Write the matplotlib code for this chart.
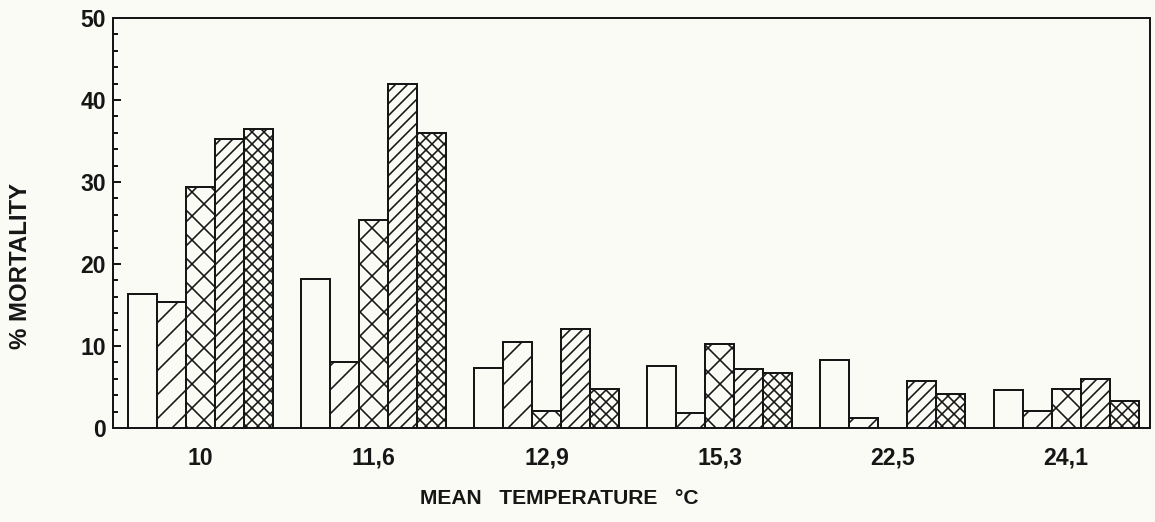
import numpy as np
import matplotlib
matplotlib.use("Agg")
import matplotlib.pyplot as plt


# ==========================================================
# 1. DONNÉES
# ==========================================================

# Températures moyennes (étiquettes de l'axe x).
temperatures = ["10", "11,6", "12,9", "15,3", "22,5", "24,1"]

# Pourcentage de mortalité, une série par motif de barre.
mortalite_blanc = [16.3, 18.2, 7.3, 7.6, 8.3, 4.6]
mortalite_raye = [15.4, 8.1, 10.5, 1.8, 1.2, 2.1]
mortalite_quadrille = [29.4, 25.4, 2.1, 10.2, 0.0, 4.8]
mortalite_raye_dense = [35.2, 41.9, 12.1, 7.2, 5.7, 6.0]
mortalite_quadrille_dense = [36.5, 36.0, 4.8, 6.7, 4.2, 3.3]

# Graduations de l'axe y.
graduations_y = [0, 10, 20, 30, 40, 50]


# ==========================================================
# 2. STYLE GÉNÉRAL
# ==========================================================

# dpi de 72 : les motifs de hachures ont alors le bon espacement.
DPI = 72
plt.rcParams["font.family"] = ["Liberation Sans", "DejaVu Sans"]
plt.rcParams["font.weight"] = "bold"
plt.rcParams["axes.labelweight"] = "bold"
plt.rcParams["hatch.linewidth"] = 1.6
plt.rcParams["hatch.color"] = "#161616"

couleur_trait = "#161616"
couleur_fond = "#fbfbf6"


# ==========================================================
# 3. TRACÉ
# ==========================================================

fig = plt.figure(figsize=(1155 / DPI, 522 / DPI), dpi=DPI, facecolor=couleur_fond)
ax = fig.add_axes([113 / 1155, 1 - 428 / 522, 1037 / 1155, 410 / 522])
ax.set_facecolor(couleur_fond)

series = [
    mortalite_blanc,
    mortalite_raye,
    mortalite_quadrille,
    mortalite_raye_dense,
    mortalite_quadrille_dense,
]
motifs = ["", "/", "x", "//", "xx"]

x = np.arange(len(temperatures))
largeur = 0.1675

for i, (valeurs, motif) in enumerate(zip(series, motifs)):
    ax.bar(
        x + (i - 2) * largeur,
        valeurs,
        largeur,
        color=couleur_fond,
        edgecolor=couleur_trait,
        linewidth=2,
        hatch=motif,
        zorder=2,
    )

ax.set_xlim(-0.505, 5.485)
ax.set_ylim(0, 50)

# Axe x : étiquettes seules, sans graduation.
ax.set_xticks(x)
ax.set_xticklabels(temperatures, fontsize=23)
ax.tick_params(axis="x", length=0, pad=19, colors=couleur_trait)

# Axe y : graduations intérieures, mineures tous les 2 %.
ax.set_yticks(graduations_y)
ax.set_yticks(np.arange(0, 51, 2), minor=True)
ax.tick_params(axis="y", which="major", direction="in", length=8,
               width=2, pad=7, labelsize=23, colors=couleur_trait)
ax.tick_params(axis="y", which="minor", direction="in", length=5,
               width=2, colors=couleur_trait)

for cote in ax.spines.values():
    cote.set_linewidth(2)
    cote.set_color(couleur_trait)

ax.set_xlabel("MEAN   TEMPERATURE   °C", fontsize=21, color=couleur_trait)
ax.xaxis.set_label_coords(0.43, -0.15)
ax.set_ylabel("% MORTALITY", fontsize=24, color=couleur_trait)
ax.yaxis.set_label_coords(-0.078, 0.395)

fig.savefig("out.png", dpi=DPI, facecolor=couleur_fond)
